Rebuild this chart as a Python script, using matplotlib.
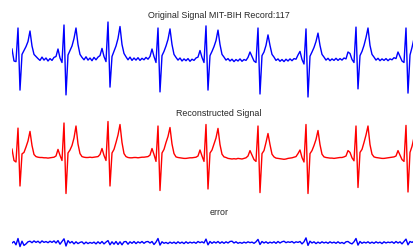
import numpy as np
import matplotlib
matplotlib.use('Agg')
import matplotlib.pyplot as plt

plt.rcParams['font.family'] = ['Liberation Sans', 'DejaVu Sans']

# titles of the three panels
titles = ['Original Signal MIT-BIH Record:117', 'Reconstructed Signal', 'error']

# original ECG (one value every 2 px)
original = [
    0.30, -0.10, -0.12, 1.00, -1.07, 0.12, 0.25, 0.38, 0.55, 0.90,
    0.40, 0.12, 0.05, -0.02, -0.08, 0.03, -0.07, 0.00, -0.10, -0.02,
    -0.08, 0.02, 0.05, 0.30, 0.00, -0.15, 1.10, -1.23, 0.10, 0.25,
    0.40, 0.65, 1.00, 0.45, 0.12, 0.02, -0.06, 0.04, -0.07, 0.00,
    -0.09, 0.02, -0.06, 0.03, 0.08, 0.32, 0.05, -0.12, 1.20, -0.97,
    0.05, 0.22, 0.40, 0.65, 1.05, 0.45, 0.15, 0.04, -0.06, 0.03,
    -0.08, 0.00, -0.07, 0.01, -0.08, -0.01, -0.06, 0.02, -0.04, 0.05,
    0.30, 0.05, -0.15, 1.00, -1.13, 0.08, 0.22, 0.40, 0.62, 0.97,
    0.45, 0.12, 0.02, -0.07, 0.00, -0.10, -0.03, -0.09, -0.02, -0.11,
    -0.04, -0.08, 0.00, 0.03, 0.25, 0.02, -0.15, 1.07, -1.07, 0.08,
    0.22, 0.38, 0.58, 0.93, 0.45, 0.12, 0.03, -0.07, -0.02, -0.10,
    -0.04, -0.12, -0.05, -0.10, -0.03, -0.11, -0.05, -0.08, 0.02, 0.20,
    0.05, -0.10, -0.15, 1.00, -1.20, 0.08, 0.20, 0.42, 0.77, 0.42,
    0.12, 0.03, -0.08, -0.03, -0.11, -0.05, -0.12, -0.04, -0.10, -0.03,
    -0.09, -0.02, -0.04, 0.10, 0.22, -0.05, -0.20, 0.97, -1.30, 0.06,
    0.20, 0.35, 0.55, 0.83, 0.42, 0.12, 0.03, -0.07, -0.01, -0.09,
    -0.03, -0.08, -0.01, -0.08, -0.02, -0.07, 0.00, -0.03, 0.20, 0.15,
    -0.05, -0.15, 1.03, -1.03, 0.08, 0.22, 0.42, 0.68, 1.00, 0.42,
    0.12, 0.03, -0.07, -0.01, -0.09, -0.03, -0.08, -0.02, -0.09, -0.03,
    -0.06, 0.01, -0.02, 0.20, 0.05, -0.10, -0.15, 1.00, -1.17, 0.10,
    0.35, 0.65,
]

# reconstructed ECG (smoother)
reconstructed = [
    0.23, -0.15, -0.20, 0.93, -1.00, 0.07, 0.12, 0.30, 0.50, 0.82,
    0.35, 0.05, -0.02, -0.04, -0.05, -0.05, -0.06, -0.06, -0.07, -0.06,
    -0.05, -0.04, 0.00, 0.22, 0.02, -0.15, 1.10, -1.25, 0.10, 0.20,
    0.35, 0.60, 1.00, 0.40, 0.08, -0.02, -0.04, -0.05, -0.05, -0.04,
    -0.05, -0.04, -0.03, -0.02, 0.05, 0.25, 0.02, -0.15, 1.15, -1.00,
    0.10, 0.22, 0.45, 0.70, 1.05, 0.45, 0.08, -0.02, -0.05, -0.06,
    -0.06, -0.05, -0.05, -0.06, -0.05, -0.04, -0.04, -0.03, -0.02, 0.03,
    0.25, 0.05, -0.18, 1.00, -1.15, 0.10, 0.22, 0.45, 0.65, 0.95,
    0.40, 0.08, -0.03, -0.05, -0.06, -0.07, -0.08, -0.08, -0.07, -0.06,
    -0.06, -0.05, -0.04, 0.00, 0.20, 0.00, -0.18, 1.05, -1.10, 0.10,
    0.20, 0.40, 0.60, 0.92, 0.38, 0.06, -0.03, -0.05, -0.08, -0.09,
    -0.10, -0.09, -0.10, -0.08, -0.09, -0.10, -0.08, -0.06, 0.00, 0.18,
    0.03, -0.12, -0.18, 1.00, -1.22, 0.08, 0.18, 0.45, 0.75, 0.38,
    0.06, -0.03, -0.07, -0.08, -0.09, -0.10, -0.11, -0.10, -0.08, -0.07,
    -0.06, -0.04, -0.02, 0.08, 0.20, -0.05, -0.20, 1.05, -1.25, 0.08,
    0.18, 0.35, 0.55, 0.85, 0.38, 0.06, -0.03, -0.05, -0.06, -0.07,
    -0.07, -0.08, -0.07, -0.06, -0.05, -0.05, -0.03, 0.00, 0.18, 0.12,
    -0.06, -0.16, 1.00, -1.05, 0.12, 0.22, 0.45, 0.70, 1.00, 0.38,
    0.06, -0.03, -0.05, -0.06, -0.07, -0.08, -0.08, -0.07, -0.06, -0.05,
    -0.04, -0.03, 0.00, 0.18, 0.03, -0.12, -0.18, 1.02, -1.20, 0.12,
    0.32, 0.62,
]

# error between the two
error = [
    0.00, 0.05, -0.06, 0.15, -0.12, 0.06, -0.08, -0.03, 0.04, 0.06,
    0.01, 0.07, 0.02, 0.06, 0.00, 0.07, 0.02, 0.05, 0.01, 0.06,
    0.02, 0.07, 0.00, 0.08, -0.04, 0.05, 0.14, -0.10, 0.08, 0.00,
    0.05, -0.03, 0.04, -0.02, 0.02, 0.04, -0.03, 0.03, -0.02, 0.02,
    -0.01, 0.03, -0.03, 0.04, -0.02, 0.05, -0.03, 0.03, 0.08, -0.06,
    0.04, -0.04, 0.05, -0.05, 0.04, -0.06, 0.04, 0.05, -0.04, 0.04,
    -0.01, 0.05, -0.02, 0.04, 0.00, 0.05, -0.01, 0.04, 0.05, 0.00,
    0.05, -0.05, 0.03, 0.15, -0.07, 0.04, -0.01, 0.02, -0.02, 0.03,
    -0.01, 0.03, -0.02, 0.04, -0.01, 0.03, -0.02, 0.04, -0.01, 0.03,
    0.00, 0.03, -0.01, 0.05, 0.01, 0.04, 0.00, 0.13, -0.06, 0.05,
    -0.01, 0.04, 0.00, 0.05, -0.01, 0.04, -0.01, 0.04, 0.00, 0.05,
    0.06, 0.00, 0.04, -0.01, 0.02, -0.01, 0.03, 0.00, 0.04, 0.01,
    0.03, -0.01, 0.04, 0.12, -0.05, 0.05, 0.00, 0.04, -0.01, 0.03,
    0.00, 0.04, -0.01, 0.05, 0.00, 0.04, 0.06, 0.01, 0.04, 0.02,
    0.05, 0.00, 0.04, 0.02, 0.05, -0.03, 0.04, 0.17, -0.08, 0.06,
    0.00, 0.04, -0.02, 0.03, -0.01, 0.04, 0.00, 0.03, -0.01, 0.04,
    0.00, 0.03, -0.01, 0.04, -0.01, 0.02, -0.02, 0.04, 0.05, 0.00,
    -0.03, 0.04, 0.15, -0.07, 0.05, -0.01, 0.03, 0.00, 0.04, -0.01,
    0.03, -0.01, 0.04, 0.00, 0.03, -0.02, 0.04, 0.00, 0.03, 0.01,
    0.04, -0.01, 0.05, 0.00, 0.04, -0.03, 0.05, 0.13, -0.06, 0.05,
    0.02, 0.06,
]

W, H = 414, 249
fig = plt.figure(figsize=(W / 100, H / 100), dpi=100)

# axes boxes in pixels: (top, bottom) ; the plots run past the right edge
boxes = [(20.5, 98.5), (118.5, 196.5), (217.5, 249.0)]
ylims = [(-1.35, 1.25), (-1.35, 1.25), (-0.2, 0.85)]
series = [original, reconstructed, error]
colors = ['#0000ff', '#ff0000', '#0000ff']

for (top, bot), yl, y, c, t in zip(boxes, ylims, series, colors, titles):
    ax = fig.add_axes([12 / W, 1 - bot / H, 414 / W, (bot - top) / H])
    x = np.arange(len(y))
    ax.plot(x, y, color=c, linewidth=1.0)
    ax.set_xlim(0, 207)
    ax.set_ylim(*yl)
    ax.set_title(t, fontsize=6.4, color='#262626', pad=2.0)
    ax.axis('off')

fig.savefig('out.png', dpi=100)
